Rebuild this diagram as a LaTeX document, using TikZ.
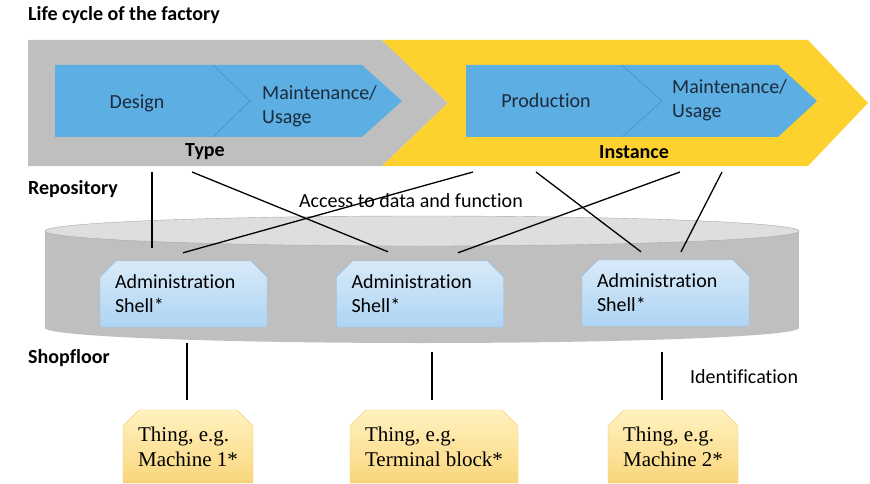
\documentclass[tikz,border=0pt]{standalone}
\usepackage{fontspec}
\setmainfont{Liberation Serif}
\setsansfont[Ligatures=NoCommon]{Carlito}
\usepackage{tikz}
\usetikzlibrary{positioning,shapes.misc}

\definecolor{typegray}{HTML}{BFBFBF}
\definecolor{instyellow}{HTML}{FDD12E}
\definecolor{phaseblue}{HTML}{5DAEE3}
\definecolor{phaseline}{HTML}{3F86BF}
\definecolor{phasetext}{HTML}{1C2B3A}
\definecolor{repobody}{HTML}{BFBFBF}
\definecolor{repotop}{HTML}{DEDEDE}
\definecolor{repoline}{HTML}{A8A8A8}
\definecolor{shelltop}{HTML}{D8EAF9}
\definecolor{shellbot}{HTML}{AED4F3}
\definecolor{shellline}{HTML}{8EC3EE}
\definecolor{thingtop}{HTML}{FFF2C0}
\definecolor{thingbot}{HTML}{FAD67C}
\definecolor{thingline}{HTML}{F3CB6B}

\begin{document}
\begin{tikzpicture}[x=1pt, y=-1pt,
  font=\sffamily\fontsize{20}{24}\selectfont,
  head/.style={font=\sffamily\bfseries\fontsize{20}{24}\selectfont, anchor=west, inner sep=0pt},
  lbl/.style={inner sep=0pt},
  phase/.style={fill=phaseblue},
  phasetxt/.style={text=phasetext, align=left, inner sep=0pt},
  shell/.style={chamfered rectangle, chamfered rectangle corners={north west,north east},
     chamfered rectangle sep=8pt, draw=shellline, top color=shelltop, bottom color=shellbot,
     minimum width=167pt, minimum height=66pt, text width=137pt, align=left, inner sep=0pt},
  thing/.style={chamfered rectangle, chamfered rectangle corners={north west,north east},
     chamfered rectangle sep=8pt, draw=thingline, top color=thingtop, bottom color=thingbot,
     minimum height=73pt, align=left, inner sep=0pt,
     font=\rmfamily\fontsize{21}{25}\selectfont},
  link/.style={line width=1.3pt},
]
\useasboundingbox (0,0) rectangle (870,484);

% --- life cycle: type (gray) and instance (yellow) -----------------------
\fill[typegray] (28,40) -- (382,40) -- (448,103) -- (382,166) -- (28,166) -- cycle;
\fill[instyellow] (382,40) -- (808,40) -- (868,103) -- (808,166) -- (382,166)
     -- (448,103) -- cycle;

\fill[phase] (55,65) -- (213,65) -- (250,101) -- (213,137) -- (55,137) -- cycle;
\fill[phase] (213,65) -- (362,65) -- (402,101) -- (362,137) -- (213,137) -- (250,101) -- cycle;
\draw[phaseline, line width=0.4pt] (213,65) -- (250,101) -- (213,137);
\fill[phase] (466,65) -- (622,65) -- (662,101) -- (622,137) -- (466,137) -- cycle;
\fill[phase] (622,65) -- (778,65) -- (817,101) -- (778,137) -- (622,137) -- (662,101) -- cycle;
\draw[phaseline, line width=0.4pt] (622,65) -- (662,101) -- (622,137);

\node[head] (title) at (28,15) {Life cycle of the factory};
\node[phasetxt] (design) at (137,103) {Design};
\node[phasetxt, anchor=west] (maintT) at (262,106) {Maintenance/\\Usage};
\node[phasetxt] (prod) at (546,101) {Production};
\node[phasetxt, anchor=west] (maintI) at (672,100) {Maintenance/\\Usage};
\node[head, anchor=center] (type) at (205,152) {Type};
\node[head, anchor=center] (inst) at (634,152) {Instance};

% --- repository: cylinder with the shells ---------------------------------
\node[head] (repo) at (28,189) {Repository};
\fill[repobody] (45,231) rectangle (799,328);
\fill[repobody] (422,328) ellipse[x radius=377, y radius=15];
\filldraw[fill=repotop, draw=repoline, line width=0.4pt] (422,231) ellipse[x radius=377, y radius=15];
\node[lbl] (access) at (411,201) {Access to data and function};

\node[shell] (shA) at (183.5,294) {Administration\\Shell*};
\node[shell] (shB) at (420,294) {Administration\\Shell*};
\node[shell] (shC) at (665.5,293) {Administration\\Shell*};

% connector ends under the life-cycle band
\coordinate (typeL) at (152,172);
\coordinate (typeR) at (192,172);
\coordinate (instL) at (473,172);
\coordinate (instM) at (536,172);
\coordinate (instR) at (680,172);
\coordinate (instE) at (722,172);

\draw[link] (typeL) -- ([xshift=-31.5pt,yshift=13pt]shA.north);
\draw[link] (typeR) -- ([xshift=-32pt,yshift=9pt]shB.north);
\draw[link] (instL) -- ([xshift=-0.5pt,yshift=8pt]shA.north);
\draw[link] (instM) -- ([xshift=-24.5pt,yshift=8pt]shC.north);
\draw[link] (instR) -- ([xshift=38pt,yshift=8pt]shB.north);
\draw[link] (instE) -- ([xshift=15.5pt,yshift=8pt]shC.north);

% --- shopfloor: things and their identification --------------------------
\node[head] (shop) at (28,358) {Shopfloor};
\node[thing, minimum width=130pt] (thA) at (188,446.5) {Thing, e.g.\\Machine 1*};
\node[thing, minimum width=168pt] (thB) at (434,446.5) {Thing, e.g.\\Terminal block*};
\node[thing, minimum width=130pt] (thC) at (673,446.5) {Thing, e.g.\\Machine 2*};
\node[lbl, anchor=west] (ident) at (690,377) {Identification};

\draw[link] ([xshift=-1pt,yshift=-16pt]thA.north |- shA.south) -- ([xshift=-1pt,yshift=10pt]thA.north);
\draw[link] ([xshift=-2pt,yshift=-25pt]thB.north |- shB.south) -- ([xshift=-2pt,yshift=10pt]thB.north);
\draw[link] ([xshift=-11pt,yshift=-26pt]thC.north |- shC.south) -- ([xshift=-11pt,yshift=10pt]thC.north);
\end{tikzpicture}
\end{document}
